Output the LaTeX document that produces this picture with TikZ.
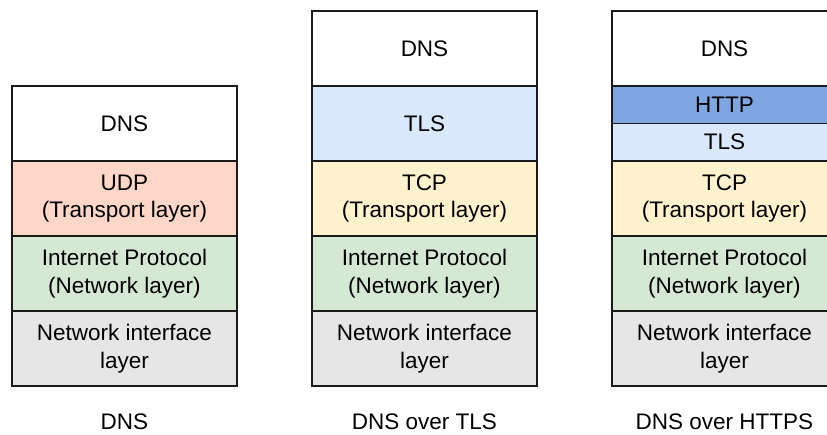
\documentclass[tikz,border=0pt]{standalone}
\usepackage{fontspec}
\setmainfont{Liberation Sans}
\definecolor{dnsfill}{HTML}{FFFFFF}
\definecolor{udpfill}{HTML}{FFD7C9}
\definecolor{tcpfill}{HTML}{FFF2CC}
\definecolor{ipfill}{HTML}{D5E8D4}
\definecolor{netfill}{HTML}{E6E6E6}
\definecolor{tlsfill}{HTML}{DAE8FC}
\definecolor{httpfill}{HTML}{7EA6E0}
\definecolor{edge}{HTML}{1A1A1A}
\tikzset{
  layer/.style={draw=edge, line width=1.5pt, rectangle, inner sep=0pt,
    minimum width=225pt, align=center, text=black,
    font=\fontsize{22.5}{27.5}\selectfont},
  tall/.style={layer, minimum height=75pt},
  half/.style={layer, minimum height=37.5pt},
  caption/.style={font=\fontsize{22.5}{27.5}\selectfont, text=black}
}
\begin{document}
\begin{tikzpicture}[x=1pt, y=1pt]
  \useasboundingbox (0,0) rectangle (827,-435);

  % plain DNS stack
  \node[tall, fill=dnsfill] (a1) at (124.5,-123.5) {DNS};
  \node[tall, fill=udpfill] (a2) at (124.5,-198.5) {UDP\\(Transport layer)};
  \node[tall, fill=ipfill]  (a3) at (124.5,-273.5) {Internet Protocol\\(Network layer)};
  \node[tall, fill=netfill] (a4) at (124.5,-348.5) {Network interface\\layer};
  \node[caption] (ca) at (124.5,-422) {DNS};

  % DNS over TLS stack
  \node[tall, fill=dnsfill] (b1) at (424.5,-48.5) {DNS};
  \node[tall, fill=tlsfill] (b2) at (424.5,-123.5) {TLS};
  \node[tall, fill=tcpfill] (b3) at (424.5,-198.5) {TCP\\(Transport layer)};
  \node[tall, fill=ipfill]  (b4) at (424.5,-273.5) {Internet Protocol\\(Network layer)};
  \node[tall, fill=netfill] (b5) at (424.5,-348.5) {Network interface\\layer};
  \node[caption] (cb) at (424.5,-422) {DNS over TLS};

  % DNS over HTTPS stack
  \node[tall, fill=dnsfill]  (c1) at (724.5,-48.5) {DNS};
  \node[half, fill=httpfill] (c2) at (724.5,-104.75) {HTTP};
  \node[half, fill=tlsfill]  (c3) at (724.5,-142.25) {TLS};
  \node[tall, fill=tcpfill]  (c4) at (724.5,-198.5) {TCP\\(Transport layer)};
  \node[tall, fill=ipfill]   (c5) at (724.5,-273.5) {Internet Protocol\\(Network layer)};
  \node[tall, fill=netfill]  (c6) at (724.5,-348.5) {Network interface\\layer};
  \node[caption] (cc) at (724.5,-422) {DNS over HTTPS};
\end{tikzpicture}
\end{document}
